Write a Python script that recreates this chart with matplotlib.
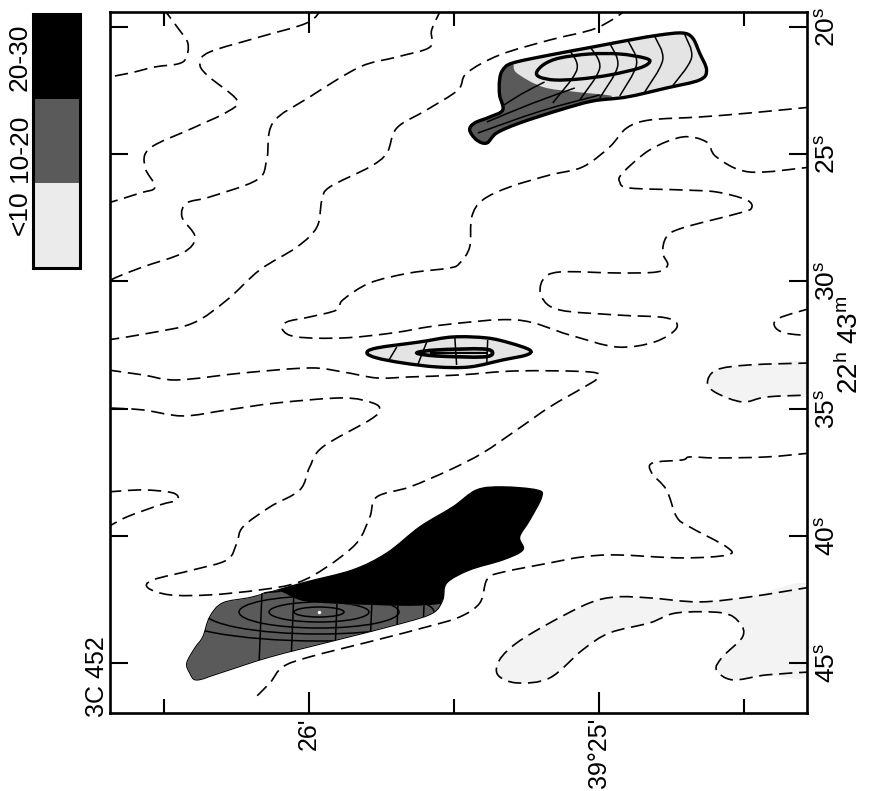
import numpy as np
import matplotlib.pyplot as plt
from matplotlib.path import Path
from matplotlib.patches import PathPatch, Rectangle, Ellipse

plt.rcParams['font.family'] = ['Liberation Sans', 'DejaVu Sans']
plt.rcParams['mathtext.fontset'] = 'custom'
plt.rcParams['mathtext.rm'] = 'Liberation Sans'
plt.rcParams['mathtext.it'] = 'Liberation Sans'

# positions are (declination in arcmin past 39 deg, right ascension in s past 22h43m)
level0_a = [(26.503, 19.25), (26.451, 20.04), (26.417, 20.63), (26.423, 21.22), (26.451, 21.45),
            (26.530, 21.57), (26.616, 21.81), (26.692, 21.97)]
level0_b = [(25.952, 19.25), (26.007, 19.84), (26.169, 20.39), (26.341, 20.98), (26.375, 21.42),
            (26.351, 21.89), (26.248, 22.87), (26.282, 23.34), (26.399, 23.97), (26.547, 24.76),
            (26.565, 25.50), (26.530, 26.29), (26.582, 26.53), (26.692, 26.92)]
level0_c = [(25.542, 19.25), (25.577, 20.12), (25.583, 20.79), (25.697, 21.18), (25.824, 21.57),
            (25.997, 22.75), (26.124, 23.77), (26.145, 25.23), (26.179, 26.01), (26.341, 26.68),
            (26.420, 26.92), (26.437, 27.47), (26.392, 28.26), (26.434, 28.88), (26.571, 29.43),
            (26.661, 29.83), (26.692, 30.02)]
level0_d = [(24.895, 19.25), (25.009, 20.04), (25.170, 20.51), (25.343, 21.10), (25.456, 21.81),
            (25.487, 22.48), (25.594, 23.26), (25.697, 23.97), (25.731, 24.95), (25.790, 25.50),
            (25.928, 26.29), (25.955, 26.80), (25.972, 27.86), (26.041, 28.65), (26.169, 29.55),
            (26.282, 30.73), (26.399, 31.64), (26.547, 32.03), (26.692, 32.30)]
level0_e = [(24.268, 23.145), (24.482, 23.381), (24.654, 23.538), (24.826, 23.656), (24.905, 23.970),
            (24.964, 24.717), (25.057, 25.503), (25.170, 25.818), (25.308, 26.289), (25.401, 26.800),
            (25.439, 27.469), (25.446, 28.648), (25.480, 29.277), (25.515, 29.473), (25.652, 29.670),
            (25.790, 30.063), (25.883, 30.731), (25.904, 31.124), (25.997, 31.399), (26.076, 31.596),
            (26.090, 31.910), (26.041, 32.186), (25.883, 32.225), (25.711, 32.028), (25.539, 31.714),
            (25.284, 31.517), (25.102, 32.107), (24.940, 32.579), (24.809, 32.382), (24.733, 31.832),
            (24.768, 31.439), (24.940, 31.321), (25.136, 31.124), (25.198, 30.613), (25.194, 29.945),
            (25.136, 29.631), (24.940, 29.670), (24.802, 29.631), (24.764, 29.355), (24.781, 28.884),
            (24.768, 28.255), (24.713, 27.901), (24.516, 27.311), (24.475, 27.115), (24.492, 26.800),
            (24.596, 26.486), (24.713, 26.407), (24.895, 26.329), (24.929, 26.093), (24.919, 25.739),
            (24.826, 24.835), (24.713, 24.324), (24.630, 24.520), (24.596, 25.110), (24.482, 25.700),
            (24.268, 25.503)]
level0_f = [(24.268, 31.045), (24.379, 31.439), (24.396, 31.753), (24.361, 32.028), (24.268, 32.146)]
level0_g = [(26.692, 33.483), (26.571, 33.679), (26.454, 33.876), (26.227, 33.601), (25.997, 33.404),
            (25.883, 33.561), (25.766, 33.797), (25.652, 33.758), (25.480, 33.679), (25.284, 33.522),
            (25.033, 33.561), (25.005, 33.797), (25.057, 34.190), (25.170, 34.937), (25.284, 35.841),
            (25.401, 36.745), (25.515, 37.414), (25.652, 38.082), (25.766, 38.475), (25.790, 39.261),
            (25.835, 40.283), (25.938, 41.226), (26.041, 41.855), (26.169, 42.131), (26.341, 42.327),
            (26.478, 42.327), (26.554, 42.052), (26.537, 41.737), (26.399, 41.344), (26.282, 40.951),
            (26.248, 40.283), (26.227, 39.654), (26.134, 38.868), (26.031, 38.200), (25.997, 37.296),
            (25.952, 36.509), (25.790, 35.448), (25.756, 35.055), (25.780, 34.780), (25.883, 34.583),
            (26.110, 34.780), (26.282, 35.055), (26.434, 35.291), (26.571, 35.055), (26.692, 34.976)]
level0_h = [(26.692, 38.278), (26.571, 38.200), (26.468, 38.318), (26.454, 38.593), (26.513, 38.789),
            (26.627, 39.261), (26.692, 39.654)]
level0_i = [(24.268, 36.745), (24.423, 36.903), (24.596, 36.942), (24.688, 36.903), (24.713, 37.020),
            (24.816, 37.138), (24.819, 37.532), (24.768, 38.200), (24.733, 39.261), (24.688, 39.654),
            (24.561, 40.440), (24.558, 40.755), (24.713, 40.873), (24.940, 40.755), (25.057, 40.833),
            (25.170, 41.069), (25.343, 41.462), (25.387, 41.737), (25.411, 42.642), (25.480, 43.192),
            (25.594, 43.585), (25.766, 44.096), (25.997, 44.764), (26.090, 45.157), (26.134, 45.786),
            (26.193, 46.454)]
level0_j = [(24.268, 33.208), (24.482, 33.286), (24.596, 33.483), (24.627, 33.994), (24.596, 34.387),
            (24.506, 34.741), (24.423, 34.544), (24.268, 34.465)]
level0_k = [(24.268, 42.013), (24.482, 42.406), (24.654, 42.602), (24.826, 42.445), (24.940, 42.406),
            (25.033, 42.642), (25.170, 43.428), (25.284, 44.214), (25.343, 44.882), (25.349, 45.472),
            (25.284, 45.786), (25.170, 45.590), (25.057, 44.489), (24.964, 43.821), (24.826, 43.428),
            (24.733, 43.035), (24.575, 43.035), (24.516, 43.428), (24.506, 43.978), (24.575, 44.764),
            (24.596, 45.275), (24.540, 45.668), (24.423, 45.472), (24.268, 45.354)]
level0_lines = [level0_a, level0_b, level0_c, level0_d, level0_e, level0_f,
                level0_g, level0_h, level0_i, level0_j, level0_k]
faint_regions = [level0_j, level0_k]

# upper source
north_outline = [(25.446, 24.049), (25.429, 23.774), (25.377, 23.538), (25.332, 23.263), (25.343, 22.673),
                 (25.343, 22.083), (25.332, 21.690), (25.298, 21.415), (25.170, 21.101), (25.022, 20.786),
                 (24.895, 20.511), (24.792, 20.314), (24.713, 20.236), (24.678, 20.432), (24.654, 21.022),
                 (24.630, 21.690), (24.654, 22.083), (24.768, 22.398), (24.905, 22.752), (25.022, 22.909),
                 (25.136, 23.263), (25.274, 23.774), (25.353, 24.167), (25.387, 24.560), (25.422, 24.442)]
north_mid = [(25.298, 21.454), (25.284, 21.808), (25.194, 22.358), (25.077, 22.555), (24.957, 22.712),
             (25.022, 22.909), (25.136, 23.263), (25.274, 23.774), (25.353, 24.167), (25.387, 24.560),
             (25.422, 24.442), (25.446, 24.049), (25.429, 23.774), (25.377, 23.538), (25.332, 23.263),
             (25.343, 22.673), (25.343, 22.083), (25.332, 21.690)]
north_core = [(25.215, 21.769), (25.188, 21.454), (25.136, 21.219), (25.033, 21.061), (24.929, 21.061),
              (24.843, 21.219), (24.826, 21.376), (24.861, 21.612), (24.964, 21.887), (25.067, 22.044),
              (25.153, 22.083), (25.205, 21.965)]
north_arcs = [[(25.102, 20.904), (25.077, 21.690), (25.160, 22.988)],
              [(25.033, 20.747), (24.998, 21.612), (25.067, 22.869)],
              [(24.964, 20.629), (24.936, 21.533), (24.998, 22.791)],
              [(24.902, 20.511), (24.871, 21.454), (24.929, 22.712)],
              [(24.809, 20.354), (24.781, 21.297), (24.843, 22.555)],
              [(24.706, 20.275), (24.682, 21.219), (24.750, 22.358)]]
north_tail = [[(25.418, 24.167), (25.200, 23.300), (24.998, 22.673)],
              [(25.387, 23.735), (25.230, 23.000), (25.084, 22.398)],
              [(25.343, 23.184), (25.270, 22.650), (25.188, 22.162)]]

# middle source
middle_outline = [(25.800, 32.814), (25.766, 32.618), (25.618, 32.382), (25.504, 32.186), (25.387, 32.225),
                  (25.308, 32.421), (25.239, 32.697), (25.250, 32.893), (25.332, 33.090), (25.446, 33.365),
                  (25.559, 33.365), (25.676, 33.208), (25.766, 33.011)]
middle_core = [(25.628, 32.814), (25.559, 32.697), (25.401, 32.657), (25.367, 32.814),
               (25.401, 32.972), (25.559, 32.932)]
middle_axis = [(25.583, 32.814), (25.384, 32.814)]
middle_bars = [[(25.697, 32.579), (25.728, 33.168)], [(25.594, 32.382), (25.625, 33.286)],
               [(25.497, 32.225), (25.491, 33.286)], [(25.384, 32.303), (25.387, 33.208)]]

# southern source
south_outline = [(26.410, 45.393), (26.420, 45.000), (26.392, 44.410), (26.365, 43.978), (26.341, 43.192),
                 (26.296, 42.642), (26.193, 42.406), (26.021, 41.855), (25.849, 41.344), (25.731, 40.676),
                 (25.618, 39.654), (25.504, 38.868), (25.422, 38.200), (25.332, 38.082), (25.215, 38.200),
                 (25.198, 38.475), (25.239, 39.379), (25.274, 40.047), (25.263, 40.558), (25.332, 40.951),
                 (25.446, 41.344), (25.525, 41.855), (25.539, 42.524), (25.573, 43.035), (25.676, 43.428),
                 (25.904, 44.096), (26.134, 44.764), (26.306, 45.393), (26.386, 45.668)]
south_mid = [(26.117, 42.131), (26.021, 42.563), (25.893, 42.681), (25.790, 42.720), (25.652, 42.759),
             (25.549, 42.681), (25.539, 42.524), (25.573, 43.035), (25.676, 43.428), (25.904, 44.096),
             (26.134, 44.764), (26.306, 45.393), (26.386, 45.668), (26.410, 45.393), (26.420, 45.000),
             (26.392, 44.410), (26.365, 43.978), (26.341, 43.192), (26.296, 42.642), (26.193, 42.406)]
south_peak = (25.965, 43.00)
south_rings_w = [0.172, 0.344, 0.551, 0.792, 1.033]
south_rings_h = [0.393, 0.786, 1.258, 1.730, 2.280]
south_bars = [26.16, 26.05, 25.90, 25.78, 25.69, 25.60]

legend_labels = ['<10', '10-20', '20-30']
legend_colors = ['#ebebeb', '#5a5a5a', '#000000']
light = '#e4e4e4'
mid = '#5a5a5a'

ra_ticks = [20, 25, 30, 35, 40, 45]
dec_major = [26.0, 25.0]
dec_major_labels = ["26'", "39°25'"]
dec_minor = [26.5, 25.5, 24.5]


def smooth_path(points, closed=False):
    p = np.asarray(points, float)
    if closed:
        p = np.vstack([p[-1], p, p[0], p[1]])
    else:
        p = np.vstack([p[0], p, p[-1]])
    verts = [p[1]]
    codes = [Path.MOVETO]
    for i in range(1, len(p) - 2):
        verts += [p[i] + (p[i + 1] - p[i - 1]) / 6, p[i + 1] - (p[i + 2] - p[i]) / 6, p[i + 1]]
        codes += [Path.CURVE4] * 3
    if closed:
        verts.append(p[1])
        codes.append(Path.CLOSEPOLY)
    return Path(verts, codes)


def draw_line(ax, points, clip=None, **kw):
    patch = PathPatch(smooth_path(points), fill=False, ec='black', capstyle='butt', **kw)
    ax.add_patch(patch)
    if clip is not None:
        patch.set_clip_path(clip)
    return patch


fig = plt.figure(figsize=(8.8, 7.91), dpi=100)
ax = fig.add_axes([110 / 880, 1 - 713 / 791, 697 / 880, 701 / 791])
ax.set_xlim(26.685, 24.284)
ax.set_ylim(46.97, 19.41)

for region in faint_regions:
    ax.add_patch(PathPatch(smooth_path(region, closed=True), fc='#f3f3f3', ec='none', zorder=1))

for line in level0_lines:
    draw_line(ax, line, lw=1.2, ls=(0, (8, 4)), zorder=2)

# north source
n_body = PathPatch(smooth_path(north_outline, closed=True), fc=light, ec='none', zorder=3)
ax.add_patch(n_body)
n_mid = PathPatch(smooth_path(north_mid, closed=True), fc=mid, ec='none', zorder=3)
ax.add_patch(n_mid)
n_mid.set_clip_path(n_body)
for arc in north_arcs + north_tail:
    draw_line(ax, arc, clip=n_body, lw=1.1, zorder=4)
ax.add_patch(PathPatch(smooth_path(north_core, closed=True), fill=False, ec='black', lw=2.4, zorder=5))
ax.add_patch(PathPatch(smooth_path(north_outline, closed=True), fill=False, ec='black', lw=2.4, zorder=5))

# middle source
m_body = PathPatch(smooth_path(middle_outline, closed=True), fc=light, ec='none', zorder=3)
ax.add_patch(m_body)
for bar in middle_bars:
    draw_line(ax, bar, clip=m_body, lw=1.1, zorder=4)
ax.add_patch(PathPatch(smooth_path(middle_core, closed=True), fill=False, ec='black', lw=2.6, zorder=5))
draw_line(ax, middle_axis, lw=1.6, zorder=5)
ax.add_patch(PathPatch(smooth_path(middle_outline, closed=True), fill=False, ec='black', lw=2.4, zorder=5))

# south source
s_body = PathPatch(smooth_path(south_outline, closed=True), fc='black', ec='black', lw=1, zorder=3)
ax.add_patch(s_body)
s_mid = PathPatch(smooth_path(south_mid, closed=True), fc=mid, ec='none', zorder=3)
ax.add_patch(s_mid)
s_mid.set_clip_path(s_body)
for w, h in zip(south_rings_w, south_rings_h):
    ring = Ellipse(south_peak, w, h, fill=False, ec='black', lw=1.1, zorder=4)
    ax.add_patch(ring)
    ring.set_clip_path(s_mid)
for d in south_bars:
    bar, = ax.plot([d, d + 0.015], [41.8, 46.0], color='black', lw=1.1, zorder=4)
    bar.set_clip_path(s_mid)
ax.plot(*south_peak, marker='.', color='white', ms=3, zorder=5)

# axes frame and ticks
for side in ax.spines.values():
    side.set_linewidth(1.9)
ax.set_xticks(dec_major)
ax.set_xticklabels(dec_major_labels, rotation=90, fontsize=18)
ax.set_xticks(dec_minor, minor=True)
ax.tick_params(axis='x', which='major', direction='in', top=True, bottom=True, length=15, width=1.5, pad=3)
ax.tick_params(axis='x', which='minor', direction='in', top=True, bottom=True, length=10, width=1.5)
ax.set_yticks(ra_ticks)
ax.set_yticklabels([r'$%d^{\mathrm{s}}$' % t for t in ra_ticks], rotation=90, fontsize=19)
ax.tick_params(axis='y', direction='in', left=True, right=True, labelleft=False, labelright=True,
               length=13, width=1.5, pad=6)
for lab in ax.get_yticklabels():
    lab.set_va('center')

fig.text(850 / 880, 1 - 345 / 791, r'$22^{\mathrm{h}}\ 43^{\mathrm{m}}$', rotation=90,
         ha='center', va='center', fontsize=20)
fig.text(97 / 880, 1 - 717 / 791, '3C 452', rotation=90, ha='center', va='bottom', fontsize=18)

# key
lax = fig.add_axes([33 / 880, 1 - 268 / 791, 47 / 880, 254 / 791])
lax.set_xlim(0, 1)
lax.set_ylim(0, 3)
lax.axis('off')
for i, c in enumerate(legend_colors):
    lax.add_patch(Rectangle((0, i), 1, 1, fc=c, ec='none'))
lax.add_patch(Rectangle((0, 0), 1, 3, fill=False, ec='black', lw=2.2, clip_on=False))
for lab, y in zip(legend_labels, [213, 148, 57]):
    fig.text(20 / 880, 1 - y / 791, lab, rotation=90, ha='center', va='center', fontsize=19)

fig.savefig('out.png', dpi=100)
